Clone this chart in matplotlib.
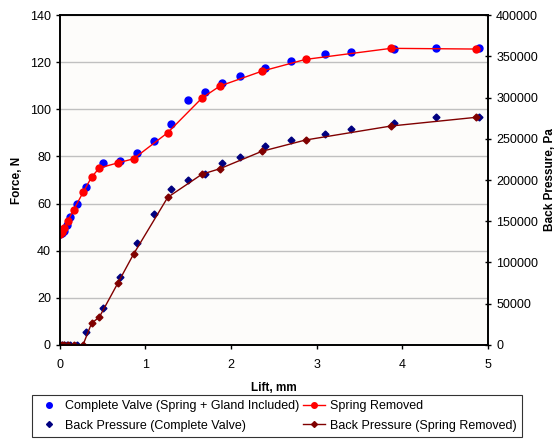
import numpy as np
import matplotlib
matplotlib.use('Agg')
import matplotlib.pyplot as plt
from matplotlib.lines import Line2D

plt.rcParams['font.family'] = ['Liberation Sans', 'DejaVu Sans']

# complete valve (spring + gland included)
lift_cv = [0, 0.02, 0.05, 0.08, 0.12, 0.2, 0.3, 0.5, 0.7, 0.9, 1.1, 1.3, 1.5,
           1.7, 1.9, 2.1, 2.4, 2.7, 3.1, 3.4, 3.9, 4.4, 4.9]
force_cv = [47.0, 47.5, 48.5, 50.9, 54.2, 59.8, 67.2, 77.1, 78.1, 81.6, 86.4,
            93.6, 103.9, 107.2, 111.0, 114.0, 117.4, 120.6, 123.3, 124.4,
            125.6, 125.9, 125.9]
bp_cv = [0, 0, 0, 0, 0, 0, 16100, 44500, 82000, 124000, 158400, 189000,
         200000, 206900, 221000, 227500, 241600, 248500, 255400, 261800,
         268700, 276000, 276000]

# spring removed
lift_sr = [0, 0.02, 0.05, 0.09, 0.16, 0.27, 0.37, 0.46, 0.68, 0.86, 1.26,
           1.66, 1.87, 2.36, 2.87, 3.87, 4.86]
force_sr = [47.2, 48.0, 49.5, 52.5, 57.3, 64.7, 71.2, 75.1, 77.3, 79.0, 90.1,
            104.8, 109.9, 116.2, 121.2, 125.9, 125.6]
bp_sr = [0, 0, 0, 0, 0, 0, 26300, 33600, 75500, 110000, 179000, 207000,
         213700, 234800, 248500, 265500, 276000]

fig = plt.figure(figsize=(5.6, 4.45), dpi=100)
ax = fig.add_axes([0.107, 0.225, 0.764, 0.741])
ax.set_facecolor('#fdfcfa')
ax2 = ax.twinx()

ax.plot(lift_cv, force_cv, 'o', color='#0000ff', ms=5, zorder=3)
ax.plot(lift_sr, force_sr, '-o', color='#ff0000', ms=5, lw=1, zorder=4)
ax2.plot(lift_cv, bp_cv, 'D', color='#000080', ms=3.5)
ax2.plot(lift_sr, bp_sr, '-D', color='#800000', ms=3.5, lw=1)

ax.set_xlim(0, 5)
ax.set_ylim(0, 140)
ax.set_yticks(np.arange(0, 141, 20))
ax2.set_ylim(0, 400000)
ax2.set_yticks(np.arange(0, 400001, 50000))
ax.grid(axis='y', color='#c0c0c0', lw=1)
ax.set_axisbelow(True)

for a in (ax, ax2):
    for s in a.spines.values():
        s.set_linewidth(1.2)
ax.tick_params(labelsize=9, length=3, width=1)
ax.tick_params(axis='x', pad=7)
ax2.tick_params(labelsize=9, length=5, width=1, direction='inout')

ax.set_xlabel('Lift, mm', fontsize=8.5, fontweight='bold', labelpad=8)
ax.set_ylabel('Force, N', fontsize=8.5, fontweight='bold', labelpad=5)
ax2.set_ylabel('Back Pressure, Pa', fontsize=8.5, fontweight='bold', labelpad=4)

handles = [
    Line2D([], [], ls='none', marker='o', color='#0000ff', ms=4),
    Line2D([], [], ls='none', marker='D', color='#000080', ms=3),
    Line2D([], [], ls='-', marker='o', color='#ff0000', ms=4, lw=1),
    Line2D([], [], ls='-', marker='D', color='#800000', ms=3, lw=1),
]
labels = ['Complete Valve (Spring + Gland Included)',
          'Back Pressure (Complete Valve)',
          'Spring Removed',
          'Back Pressure (Spring Removed)']
leg = fig.legend(handles, labels, ncol=2, loc='lower center',
                 bbox_to_anchor=(0.495, 0.005), fontsize=9, frameon=True,
                 fancybox=False, edgecolor='black', handlelength=1.8,
                 columnspacing=0.3, handletextpad=0.4, labelspacing=0.6,
                 borderpad=0.4)
leg.get_frame().set_linewidth(0.8)

fig.savefig('out.png', dpi=100)
